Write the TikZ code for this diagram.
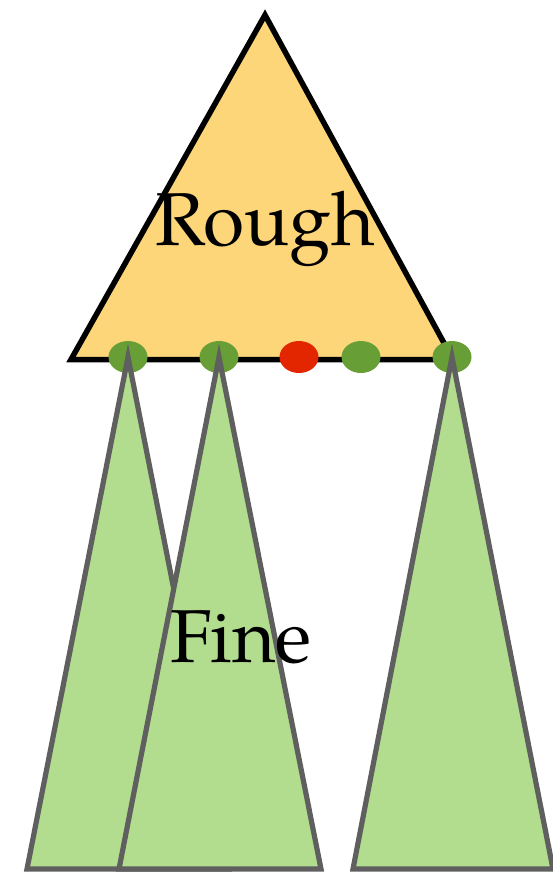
\documentclass[tikz,border=0pt]{standalone}
\usepackage{fontspec}
\setmainfont{TeX Gyre Pagella}
\usetikzlibrary{shapes.geometric}
\definecolor{roughfill}{HTML}{FDD67A}
\definecolor{finefill}{HTML}{B3DD8E}
\definecolor{fineline}{HTML}{5F5F5F}
\definecolor{dotgreen}{HTML}{679E36}
\definecolor{dotred}{HTML}{E32500}
\tikzset{
  dot/.style={ellipse,fill=#1,inner sep=0pt,minimum width=39pt,minimum height=32pt},
  finetri/.style={fill=finefill,draw=fineline,line width=5.2pt},
  lbl/.style={anchor=base,font=\fontsize{75}{75}\selectfont,inner sep=0pt}
}
\begin{document}
\begin{tikzpicture}[x=1pt,y=-1pt]
  \useasboundingbox (0,0) rectangle (553,872);
  \draw[line width=5.5pt,fill=roughfill] (265,15) -- (71,359.5) -- (453,359.5) -- cycle; % grobes Dreieck
  \node[dot=dotgreen] (d1) at (128,357){};
  \node[dot=dotgreen] (d2) at (219,357){};
  \node[dot=dotred]   (d3) at (299,357){};
  \node[dot=dotgreen] (d4) at (361,357){};
  \node[dot=dotgreen] (d5) at (452,357){};
  % feine Dreiecke an den Punkten
  \draw[finetri] (d1.center) -- ++(-101,512) -- ++(202,0) -- cycle;
  \draw[finetri] (d2.center) -- ++(-100,512) -- ++(202,0) -- cycle;
  \draw[finetri] (d5.center) -- ++(-99,512) -- ++(200,0) -- cycle;
  \node[lbl] (rough) at (265,245){Rough};
  \node[lbl] (fine) at (241,662){Fine};
\end{tikzpicture}
\end{document}
